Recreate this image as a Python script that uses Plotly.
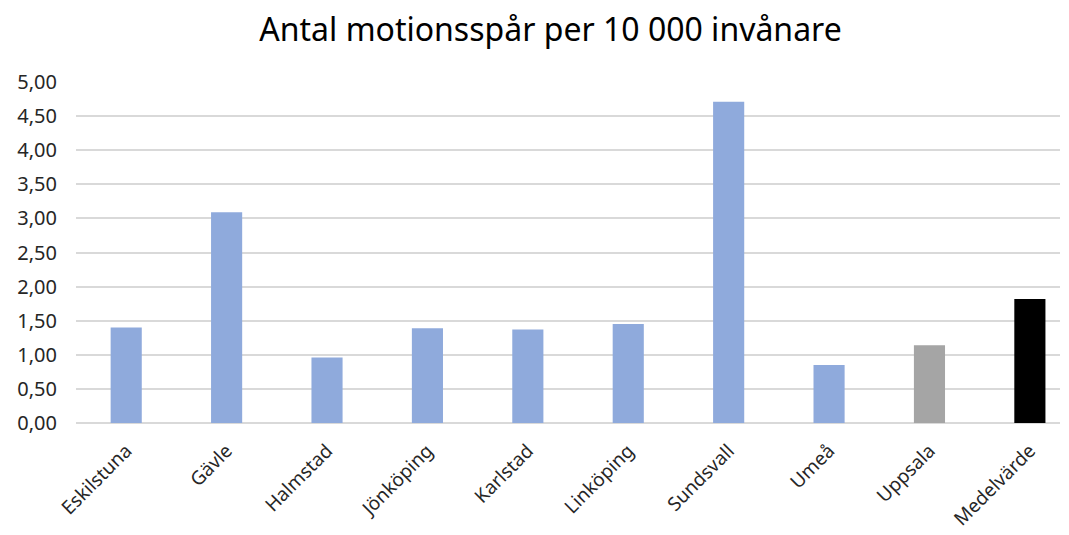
import plotly.graph_objects as go

# data
kommuner = ["Eskilstuna", "Gävle", "Halmstad", "Jönköping", "Karlstad",
            "Linköping", "Sundsvall", "Umeå", "Uppsala", "Medelvärde"]
spar_per_10k = [1.40, 3.09, 0.96, 1.39, 1.37, 1.45, 4.71, 0.85, 1.14, 1.82]
bar_colors = ["#8faadc"] * 8 + ["#a5a5a5", "#000000"]

font = "Noto Sans"

fig = go.Figure()
fig.add_trace(go.Bar(
    x=kommuner,
    y=spar_per_10k,
    marker=dict(color=bar_colors, line=dict(width=0)),
    width=0.31,
    hovertemplate="%{x}: %{y:.2f}<extra></extra>",
))

fig.update_layout(
    width=1069, height=535,
    margin=dict(l=76, r=9, t=82, b=112, autoexpand=False),
    paper_bgcolor="white",
    plot_bgcolor="white",
    separators=", ",
    showlegend=False,
    font=dict(family=font, color="#262626"),
    title=dict(
        text="Antal motionsspår per 10 000 invånare",
        x=0.515, xanchor="center", y=0.945, yanchor="middle",
        font=dict(family=font, size=32, color="#000000"),
    ),
)

fig.update_xaxes(
    range=[-0.5, 9.3],
    tickangle=-45,
    tickfont=dict(family=font, size=19, color="#262626"),
    showgrid=False,
    showline=False,
    ticks="",
    ticklabelstandoff=12,
    automargin=False,
)

fig.update_yaxes(
    range=[0, 5],
    dtick=0.5,
    tickformat=".2f",
    tickfont=dict(family=font, size=20, color="#262626"),
    showgrid=True,
    gridcolor="#d9d9d9",
    gridwidth=1.5,
    zeroline=True,
    zerolinecolor="#d9d9d9",
    zerolinewidth=1.5,
    ticks="",
    ticklabelstandoff=18,
    automargin=False,
)

# drop the default page margin so the figure sits at the window corner
fig.write_html("out.html", config={"displayModeBar": False},
               post_script="document.body.style.margin='0';")
